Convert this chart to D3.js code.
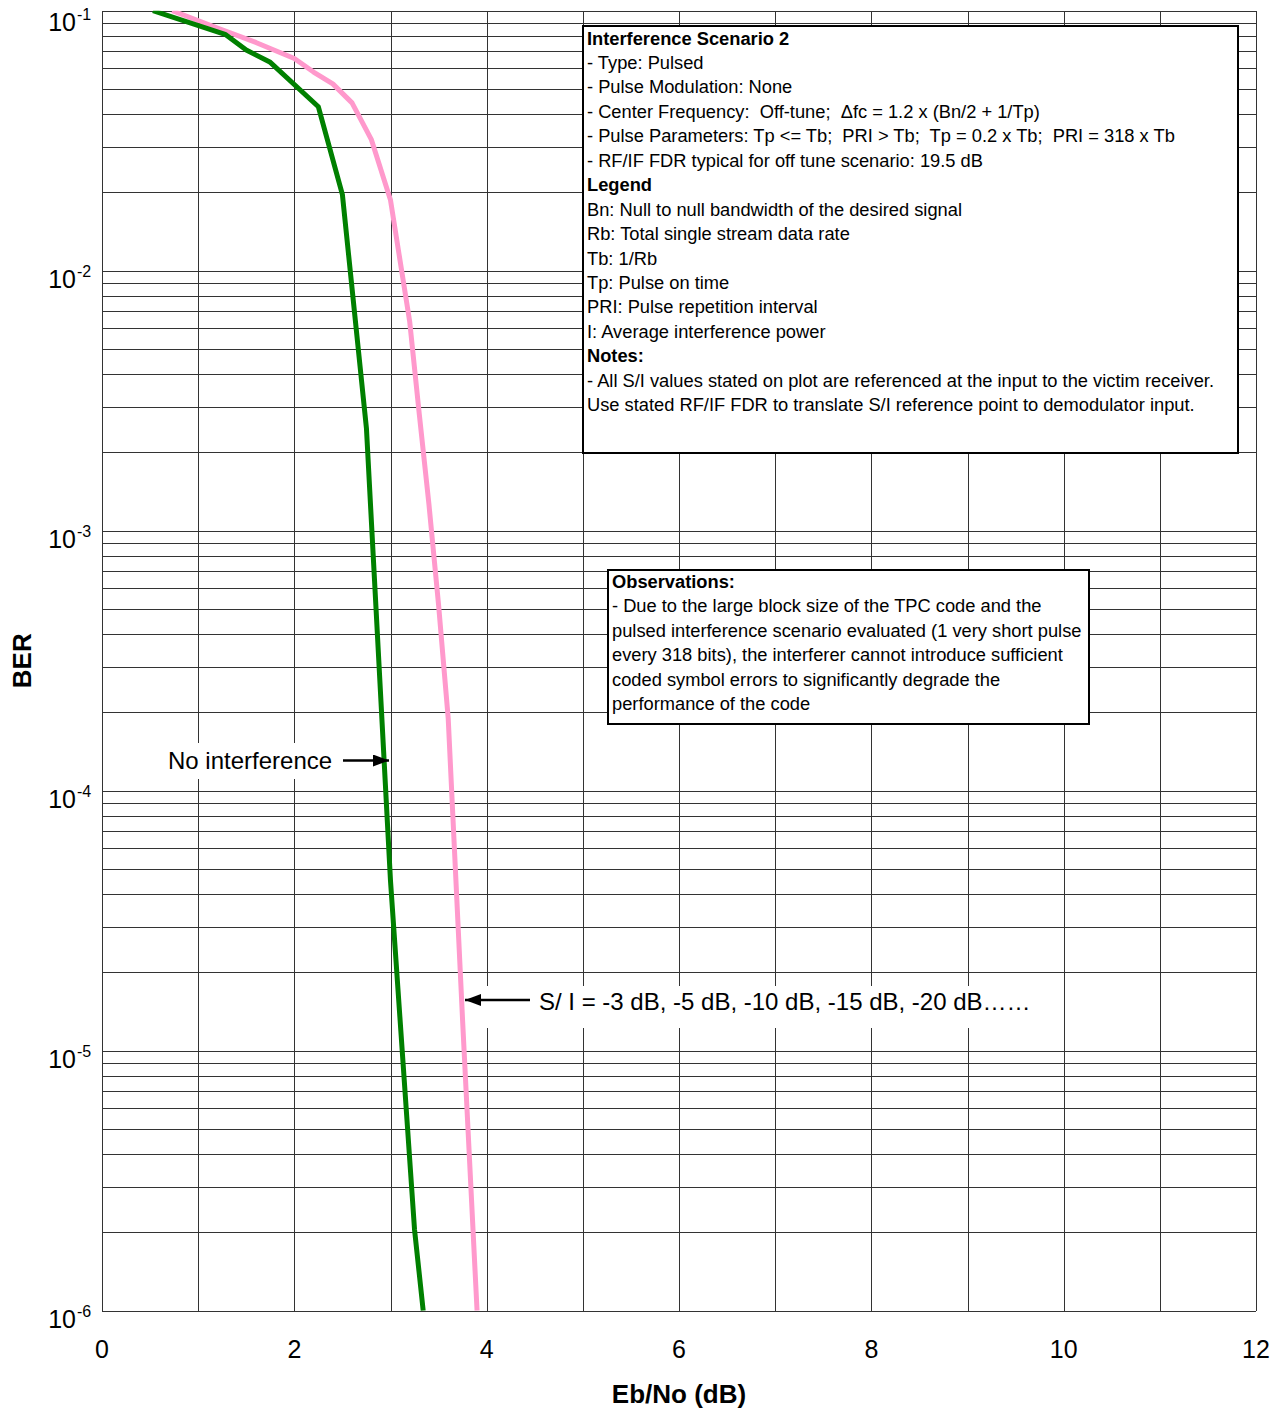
<!DOCTYPE html>
<html>
<head>
<meta charset="utf-8">
<script src="https://cdn.jsdelivr.net/npm/d3@7"></script>
<style>
  html, body { margin: 0; padding: 0; background: #fff; }
  svg { display: block; font-family: "Liberation Sans", Arial, Helvetica, sans-serif; }
  text { white-space: pre; }
</style>
</head>
<body>
<svg id="chart" width="1275" height="1416"></svg>
<script>
// ---------------- data ----------------
const noIntEbNo = [0.53, 1.28, 1.5, 1.75, 2.25, 2.5, 2.75, 3.0, 3.25, 3.34];
const noIntBer  = [0.1, 0.0811, 0.0706, 0.0633, 0.0427, 0.0196, 2.47e-3, 4.5e-5, 2.05e-6, 1e-6];

const siEbNo = [0.73, 1.2, 1.6, 2.0, 2.2, 2.4, 2.6, 2.8, 3.0, 3.2, 3.3, 3.4, 3.5, 3.6, 3.75, 3.9];
const siBer  = [0.1, 0.0858, 0.0755, 0.0655, 0.0581, 0.0523, 0.0442, 0.032, 0.0187, 6.35e-3, 2.79e-3, 1.26e-3, 5.18e-4, 1.9e-4, 1.3e-5, 1e-6];

const xTickValues = [0, 2, 4, 6, 8, 10, 12];
const xGridValues = [0, 1, 2, 3, 4, 5, 6, 7, 8, 9, 10, 11, 12];
const yDecadeExponents = [-1, -2, -3, -4, -5, -6];

const xTitle = "Eb/No (dB)";
const yTitle = "BER";

const infoLines = [
  {t: "Interference Scenario 2", b: true},
  {t: "- Type: Pulsed", b: false},
  {t: "- Pulse Modulation: None", b: false},
  {t: "- Center Frequency:  Off-tune;  \u0394fc = 1.2 x (Bn/2 + 1/Tp)", b: false},
  {t: "- Pulse Parameters: Tp <= Tb;  PRI > Tb;  Tp = 0.2 x Tb;  PRI = 318 x Tb", b: false},
  {t: "- RF/IF FDR typical for off tune scenario: 19.5 dB", b: false},
  {t: "Legend", b: true},
  {t: "Bn: Null to null bandwidth of the desired signal", b: false},
  {t: "Rb: Total single stream data rate", b: false},
  {t: "Tb: 1/Rb", b: false},
  {t: "Tp: Pulse on time", b: false},
  {t: "PRI: Pulse repetition interval", b: false},
  {t: "I: Average interference power", b: false},
  {t: "Notes:", b: true},
  {t: "- All S/I values stated on plot are referenced at the input to the victim receiver.", b: false},
  {t: "Use stated RF/IF FDR to translate S/I reference point to demodulator input.", b: false}
];

const obsLines = [
  {t: "Observations:", b: true},
  {t: "- Due to the large block size of the TPC code and the", b: false},
  {t: "pulsed interference scenario evaluated (1 very short pulse", b: false},
  {t: "every 318 bits), the interferer cannot introduce sufficient", b: false},
  {t: "coded symbol errors to significantly degrade the", b: false},
  {t: "performance of the code", b: false}
];

const noIntLabel = "No interference";
const siLabel = "S/ I = -3 dB, -5 dB, -10 dB, -15 dB, -20 dB\u2026\u2026";

// ---------------- layout ----------------
const svg = d3.select("#chart");
const pLeft = 102, pRight = 1256, pTop = 10.7, pBottom = 1310.7;

const x = d3.scaleLinear().domain([0, 12]).range([pLeft, pRight]);
const y = d3.scaleLog().domain([1e-6, 1e-1]).range([pBottom, pTop]);

const defs = svg.append("defs");
defs.append("clipPath").attr("id", "plotClip")
  .append("rect").attr("x", pLeft).attr("y", pTop)
  .attr("width", pRight - pLeft).attr("height", pBottom - pTop);
defs.append("marker").attr("id", "arrowHead")
  .attr("viewBox", "0 0 16 12").attr("refX", 16).attr("refY", 6)
  .attr("markerWidth", 16).attr("markerHeight", 12)
  .attr("markerUnits", "userSpaceOnUse").attr("orient", "auto")
  .append("path").attr("d", "M0,0 L16,6 L0,12 Z").attr("fill", "#000");

// grid
const grid = svg.append("g").attr("stroke", "#333").attr("stroke-width", 1).attr("shape-rendering", "crispEdges");
const yGridValues = [];
yDecadeExponents.forEach(e => {
  if (e === -1) { yGridValues.push(1e-1); return; }
  for (let m = 1; m <= 9; m++) yGridValues.push(m * Math.pow(10, e));
});
grid.selectAll("line.h").data(yGridValues).join("line").attr("class", "h")
  .attr("x1", pLeft).attr("x2", pRight)
  .attr("y1", d => Math.round(y(d)) + 0.5).attr("y2", d => Math.round(y(d)) + 0.5);
grid.selectAll("line.v").data(xGridValues).join("line").attr("class", "v")
  .attr("x1", d => Math.round(x(d)) + 0.5).attr("x2", d => Math.round(x(d)) + 0.5)
  .attr("y1", pTop).attr("y2", pBottom);

// white backgrounds of annotation labels
svg.append("rect").attr("x", 158).attr("y", 743).attr("width", 228).attr("height", 36).attr("fill", "#fff");
svg.append("rect").attr("x", 474).attr("y", 986).attr("width", 566).attr("height", 42).attr("fill", "#fff");

// curves
const line = d3.line().x(d => x(d[0])).y(d => y(d[1]));
const curves = svg.append("g").attr("clip-path", "url(#plotClip)").attr("fill", "none")
  .attr("stroke-width", 5).attr("stroke-linejoin", "round");
curves.append("path").datum(siEbNo.map((v, i) => [v, siBer[i]]))
  .attr("stroke", "#ff99cc").attr("d", line);
curves.append("path").datum(noIntEbNo.map((v, i) => [v, noIntBer[i]]))
  .attr("stroke", "#008000").attr("d", line);

// y tick labels
const yLab = svg.append("g").attr("fill", "#000");
yDecadeExponents.forEach(e => {
  const yy = Math.max(y(Math.pow(10, e)) + 8, 22) + 9;
  yLab.append("text").attr("x", pLeft - 26).attr("y", yy).attr("text-anchor", "end")
    .attr("font-size", 25).text("10");
  yLab.append("text").attr("x", pLeft - 25).attr("y", yy - 11).attr("font-size", 16).text(String(e));
});

// x tick labels
svg.append("g").attr("font-size", 25).attr("text-anchor", "middle")
  .selectAll("text").data(xTickValues).join("text")
  .attr("x", d => x(d)).attr("y", pBottom + 47).text(d => d);

// axis titles
svg.append("text").attr("x", (pLeft + pRight) / 2).attr("y", 1403)
  .attr("text-anchor", "middle").attr("font-size", 26).attr("font-weight", "bold").text(xTitle);
svg.append("text").attr("transform", `translate(31,${(pTop + pBottom) / 2}) rotate(-90)`)
  .attr("text-anchor", "middle").attr("font-size", 26).attr("font-weight", "bold").text(yTitle);

// text boxes
function textBox(x0, y0, w, h, lines, tx, firstBase) {
  const g = svg.append("g");
  g.append("rect").attr("x", x0).attr("y", y0).attr("width", w).attr("height", h)
    .attr("fill", "#fff").attr("stroke", "#000").attr("stroke-width", 2);
  g.selectAll("text").data(lines).join("text")
    .attr("x", tx).attr("y", (d, i) => firstBase + i * 24.45)
    .attr("font-size", 18.3).attr("font-weight", d => d.b ? "bold" : "normal")
    .attr("xml:space", "preserve")
    .text(d => d.t);
}
textBox(583, 26, 655, 427, infoLines, 587, 44.5);
textBox(608, 570, 481, 154, obsLines, 612, 588);

// annotations
svg.append("text").attr("x", 168).attr("y", 769).attr("font-size", 24).text(noIntLabel);
svg.append("line").attr("x1", 343).attr("y1", 760.5).attr("x2", 389).attr("y2", 760.5)
  .attr("stroke", "#000").attr("stroke-width", 2.5).attr("marker-end", "url(#arrowHead)");

svg.append("text").attr("x", 539).attr("y", 1010).attr("font-size", 24).text(siLabel);
svg.append("line").attr("x1", 530).attr("y1", 1000).attr("x2", 465).attr("y2", 1000)
  .attr("stroke", "#000").attr("stroke-width", 2.5).attr("marker-end", "url(#arrowHead)");
</script>
</body>
</html>
